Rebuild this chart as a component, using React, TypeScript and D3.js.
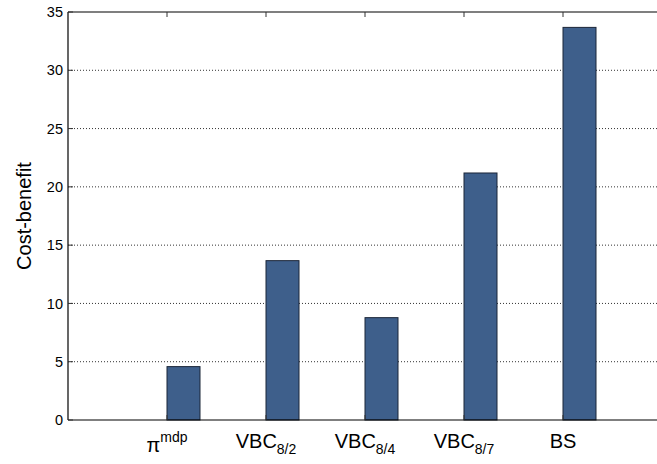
import React from "react";
import * as d3 from "d3";

const categories = ["pi_mdp", "VBC_8/2", "VBC_8/4", "VBC_8/7", "BS"];
const labelMain = ["π", "VBC", "VBC", "VBC", "BS"];
const labelSup = ["mdp", "", "", "", ""];
const labelSub = ["", "8/2", "8/4", "8/7", ""];
const values = [4.58, 13.67, 8.78, 21.19, 33.68];
const yTicks = [0, 5, 10, 15, 20, 25, 30, 35];

const W = 657;
const H = 464;
const left = 68;
const top = 12;
const bottom = 420;

export default function App() {
  const x = d3.scaleLinear().domain([0, 6]).range([left, left + 99 * 6]);
  const y = d3.scaleLinear().domain([0, 35]).range([bottom, top]);
  const barW = 33;
  const font = "'Liberation Sans', Arial, Helvetica, sans-serif";
  return (
    <svg
      width={W}
      height={H}
      style={{ position: "absolute", left: 0, top: 0, background: "#fff" }}
      fontFamily={font}
    >
      {yTicks.filter((t) => t > 0 && t < 35).map((t) => (
        <line
          key={"g" + t}
          x1={left}
          x2={W}
          y1={y(t)}
          y2={y(t)}
          stroke="#333"
          strokeWidth={1}
          strokeDasharray="1,2"
        />
      ))}
      {categories.map((c, i) => {
        const xv = x(i + 1);
        return (
          <rect
            key={c}
            x={xv}
            y={y(values[i])}
            width={barW}
            height={y(0) - y(values[i])}
            fill="#3e5f8b"
            stroke="#1b2638"
            strokeWidth={1}
          />
        );
      })}
      {/* axes */}
      <line x1={left} x2={W} y1={top} y2={top} stroke="#000" strokeWidth={1.2} />
      <line x1={left} x2={W} y1={bottom} y2={bottom} stroke="#000" strokeWidth={1.2} />
      <line x1={left} x2={left} y1={top} y2={bottom} stroke="#000" strokeWidth={1.2} />
      {categories.map((c, i) => (
        <g key={"t" + c}>
          <line x1={x(i + 1)} x2={x(i + 1)} y1={top} y2={top + 5} stroke="#333" />
          <line x1={x(i + 1)} x2={x(i + 1)} y1={bottom} y2={bottom - 5} stroke="#333" />
        </g>
      ))}
      {yTicks.map((t) => (
        <g key={"y" + t}>
          <line x1={left} x2={left + 5} y1={y(t)} y2={y(t)} stroke="#333" />
          <text
            x={left - 5}
            y={y(t)}
            dy="0.35em"
            textAnchor="end"
            fontSize={14.5}
            fill="#000"
          >
            {t}
          </text>
        </g>
      ))}
      {categories.map((c, i) => (
        <text
          key={"l" + c}
          x={x(i + 1)}
          y={i === 0 ? 452 : 448}
          textAnchor="middle"
          fontSize={20}
          fill="#000"
        >
          <tspan>{labelMain[i]}</tspan>
          {labelSup[i] && (
            <tspan fontSize={14} dy={-10}>
              {labelSup[i]}
            </tspan>
          )}
          {labelSub[i] && (
            <tspan fontSize={14} dy={6}>
              {labelSub[i]}
            </tspan>
          )}
        </text>
      ))}
      <text
        transform={`translate(31, ${(top + bottom) / 2}) rotate(-90)`}
        textAnchor="middle"
        fontSize={20}
        fill="#000"
      >
        Cost-benefit
      </text>
    </svg>
  );
}
